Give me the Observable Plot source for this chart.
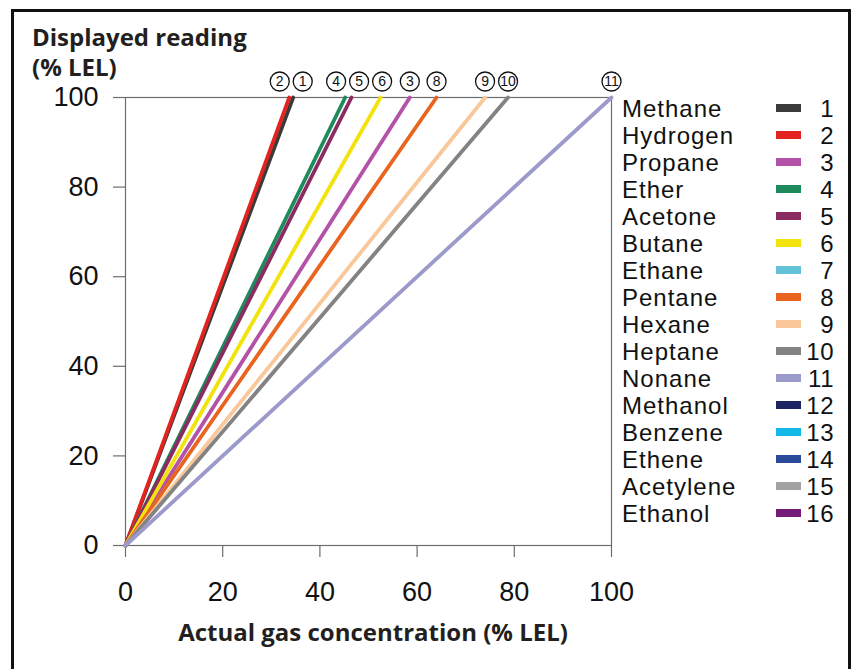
<!DOCTYPE html>
<html>
<head>
<meta charset="utf-8">
<script src="https://cdn.jsdelivr.net/npm/d3@7"></script>
<script src="https://cdn.jsdelivr.net/npm/@observablehq/plot@0.6"></script>
<style>
  html, body { margin: 0; padding: 0; background: #fff; overflow: hidden; }
  #wrap { position: relative; width: 853px; height: 669px; overflow: hidden; }
  #border { position: absolute; left: 11px; top: 9px; width: 834px; height: 700px; border: 3px solid #111; box-sizing: content-box; }
  .title { position: absolute; font-family: "Open Sans", sans-serif; font-weight: 700; font-size: 24px; color: #231f20; line-height: 30px; }
  #ytitle { left: 32px; top: 22px; }
  #xtitle { left: 125px; width: 496px; text-align: center; top: 617px; }
  #legend { position: absolute; left: 620px; top: 94px; font-family: "Liberation Sans", Arial, sans-serif; font-size: 24px; letter-spacing: 1px; color: #111; }
  .row { position: relative; height: 27px; line-height: 27px; width: 215px; white-space: nowrap; }
  .row .name { position: absolute; left: 2px; top: 1px; }
  .row .sw { position: absolute; left: 156px; top: 10px; width: 25px; height: 8px; }
  .row .num { position: absolute; right: 1px; top: 1px; letter-spacing: 0.5px; }
  #chart { position: absolute; left: 0; top: 0; }
</style>
</head>
<body>
<div id="wrap">
  <div id="border"></div>
  <div id="chart"></div>
  <div class="title" id="ytitle">Displayed reading<br>(% LEL)</div>
  <div class="title" id="xtitle">Actual gas concentration (% LEL)</div>
  <div id="legend"></div>
</div>
<script>
// Gas names (legend order), legend numbers, colours
const gases = ["Methane","Hydrogen","Propane","Ether","Acetone","Butane","Ethane","Pentane","Hexane","Heptane","Nonane","Methanol","Benzene","Ethene","Acetylene","Ethanol"];
const numbers = [1,2,3,4,5,6,7,8,9,10,11,12,13,14,15,16];
const colors = ["#3b3b3b","#e2231f","#b352a6","#1f8a5b","#8a2b62","#f2e30c","#62c3d9","#e8641f","#f9c79a","#838383","#9c9acb","#1b2361","#14b9e8","#2c4a9a","#a2a2a2","#741a79"];
// Actual gas concentration (% LEL) at which each reading reaches 100 % LEL (null = not drawn)
const fullScaleAt = [34.5, 33.7, 58.5, 45.2, 46.5, 52.5, null, 64.0, 74.0, 78.7, 100, null, null, null, null, null];
// Axis ticks
const xTicks = [0, 20, 40, 60, 80, 100];
const yTicks = [0, 20, 40, 60, 80, 100];

// Build line data: each gas from origin to full-scale point
const lineData = [];
gases.forEach((g, i) => {
  if (fullScaleAt[i] == null) return;
  lineData.push({gas: g, x: 0, y: 0});
  lineData.push({gas: g, x: fullScaleAt[i], y: 100});
});

// Circled number labels at the top, dodged so they don't overlap
let labels = gases.map((g, i) => ({gas: g, num: numbers[i], end: fullScaleAt[i]}))
  .filter(d => d.end != null)
  .sort((a, b) => a.end - b.end);
const gap = 23 / 4.86;
let clusters = labels.map(d => ({items: [d], center: d.end}));
let changed = true;
while (changed) {
  changed = false;
  for (let k = 0; k < clusters.length - 1; k++) {
    const a = clusters[k], b = clusters[k + 1];
    const aRight = a.center + (a.items.length - 1) * gap / 2;
    const bLeft = b.center - (b.items.length - 1) * gap / 2;
    if (bLeft - aRight < gap) {
      const items = a.items.concat(b.items);
      const center = d3.mean(items, d => d.end);
      clusters.splice(k, 2, {items, center});
      changed = true;
      break;
    }
  }
}
clusters.forEach(c => {
  const n = c.items.length;
  c.items.forEach((d, j) => { d.lx = Math.min(100, c.center + (j - (n - 1) / 2) * gap); });
});

const chart = Plot.plot({
  width: 853,
  height: 669,
  marginLeft: 125,
  marginRight: 242,
  marginTop: 97,
  marginBottom: 124,
  x: {domain: [0, 100]},
  y: {domain: [0, 100]},
  color: {domain: gases, range: colors},
  style: {fontFamily: "'Liberation Sans', Arial, sans-serif", fontSize: "27px", background: "transparent", overflow: "visible", color: "#111"},
  marks: [
    Plot.frame({stroke: "#6d6d6d", strokeWidth: 1.2}),
    Plot.axisX({ticks: xTicks, tickSize: 12, tickPadding: 24, label: null, fontSize: 27, stroke: "#6d6d6d", strokeWidth: 1.2}),
    Plot.axisY({ticks: yTicks, tickSize: 12, tickPadding: 15, label: null, fontSize: 27, stroke: "#6d6d6d", strokeWidth: 1.2}),
    Plot.line(lineData, {x: "x", y: "y", z: "gas", stroke: "gas", strokeWidth: 3.8}),
    Plot.dot(labels, {x: "lx", y: () => 100, dy: -16, r: 9.5, fill: "white", stroke: "#111", strokeWidth: 1.3}),
    Plot.text(labels, {x: "lx", y: () => 100, dy: -16, text: "num", fontSize: 14, fill: "#111"})
  ]
});
document.getElementById("chart").appendChild(chart);

// Legend
const legend = document.getElementById("legend");
gases.forEach((g, i) => {
  const row = document.createElement("div");
  row.className = "row";
  row.innerHTML = `<span class="name">${g}</span><span class="sw" style="background:${colors[i]}"></span><span class="num">${numbers[i]}</span>`;
  legend.appendChild(row);
});
</script>
</body>
</html>
